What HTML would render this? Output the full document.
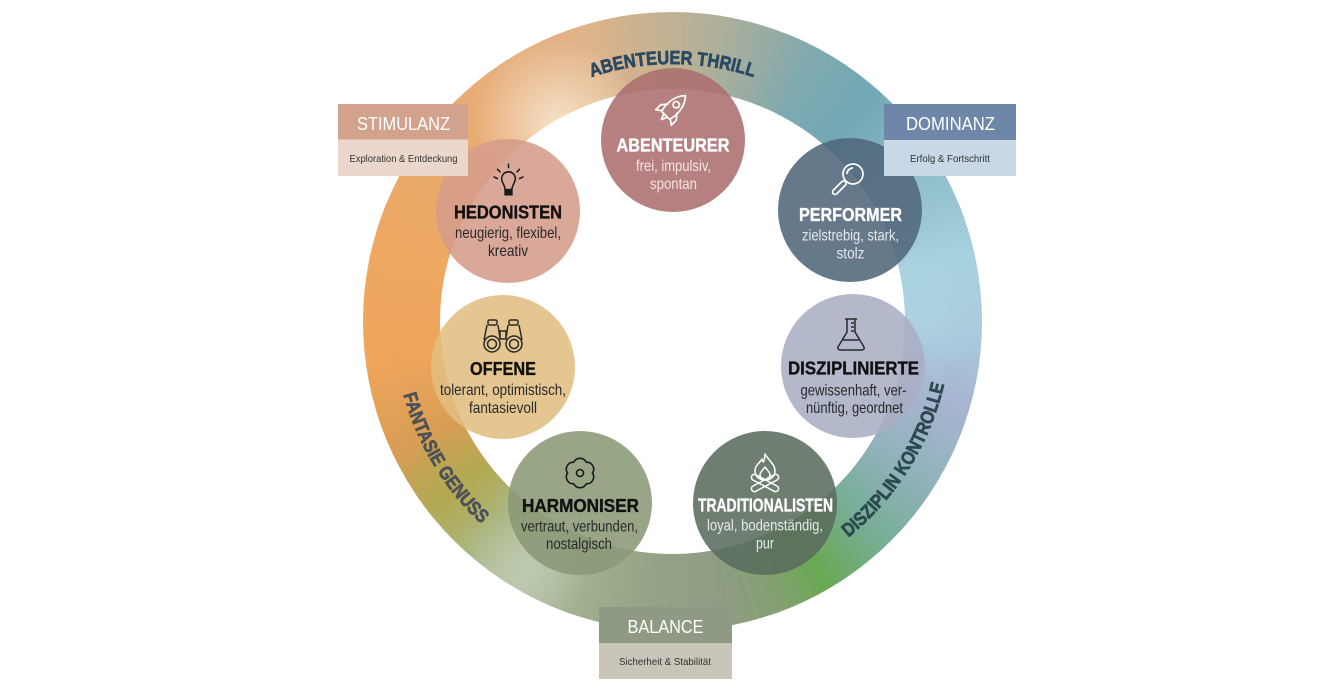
<!DOCTYPE html>
<html><head><meta charset="utf-8"><style>
html,body{margin:0;padding:0;background:#fff;}
#c{position:relative;width:1340px;height:697px;overflow:hidden;background:#fff;}
.ring{position:absolute;left:363px;top:11.5px;width:619px;height:619px;border-radius:50%;
background:
 radial-gradient(circle 85px at 195px 112px, rgba(246,228,204,.95), rgba(246,228,204,0)),
 radial-gradient(circle 65px at 160px 560px, rgba(192,204,178,.8), rgba(192,204,178,0)),
 radial-gradient(circle 55px at 90px 470px, rgba(180,168,80,.55), rgba(180,168,80,0)),
 radial-gradient(circle 70px at 560px 300px, rgba(175,216,228,.6), rgba(175,216,228,0)),
 conic-gradient(from 0deg at 50% 50%,
 #bfb293 0deg,#a7ae9c 12deg,#7fa9b0 28deg,#72a8b6 42deg,#8dbcc8 58deg,#a8d2de 78deg,#a9c9dc 92deg,
 #a7b5d1 106deg,#94b2bf 120deg,#78ae98 136deg,#6aa852 150deg,#86a074 160deg,#8f9d83 170deg,
 #94a385 185deg,#a2b291 200deg,#b4c0a5 210deg,#a9b884 220deg,#b3aa55 232deg,#d99d55 245deg,
 #eea55b 262deg,#eea862 285deg,#e9aa6e 305deg,#e8ae7b 325deg,#dfb38a 343deg,#bfb293 360deg);}
.inner{position:absolute;left:440px;top:88.5px;width:465px;height:465px;border-radius:50%;background:#fff;}
svg{position:absolute;left:0;top:0;}
.t{font-family:"Liberation Sans",sans-serif;font-weight:bold;font-size:18px;text-anchor:middle;stroke-width:0.35;}
.s{font-family:"Liberation Sans",sans-serif;font-size:16px;text-anchor:middle;}
.b{font-family:"Liberation Sans",sans-serif;font-size:18px;text-anchor:middle;fill:#fff;}
.bs{font-family:"Liberation Sans",sans-serif;font-size:10.5px;text-anchor:middle;fill:#333;}
.rl{font-family:"Liberation Sans",sans-serif;font-weight:bold;font-size:19px;stroke-width:0.7;}
</style></head><body><div id="c">
<div class="ring"></div>
<div class="inner"></div>
<svg width="1340" height="697" viewBox="0 0 1340 697" xmlns="http://www.w3.org/2000/svg">
<defs>
<path id="pTop" d="M525.1 110.5 A257 257 0 0 1 819.9 110.5"/>
<path id="pLeft" d="M395.0 350.2 A279 279 0 0 0 516.5 552.3"/>
<path id="pRight" d="M824.4 555 A279 279 0 0 0 949.4 355"/>
</defs>

<!-- circles -->
<g fill-opacity="0.88">
<circle cx="673" cy="140" r="72" fill="#ac6e6f"/>
<circle cx="508" cy="211" r="72" fill="#d59c8a"/>
<circle cx="850" cy="210" r="72" fill="#51667b"/>
<circle cx="503" cy="367" r="72" fill="#e1be81"/>
<circle cx="853" cy="366" r="72" fill="#a8aec4"/>
<circle cx="580" cy="503" r="72" fill="#8a9976"/>
<circle cx="765" cy="503" r="72" fill="#5a6c5d"/>
</g>

<!-- rocket -->
<g transform="translate(672,109) rotate(45)" fill="none" stroke="#fff" stroke-width="1.7" stroke-linejoin="round">
<path d="M0,-19 C8,-11 8,2 5.5,9 L-5.5,9 C-8,2 -8,-11 0,-19Z"/>
<circle cx="0" cy="-6" r="3.2"/>
<path d="M-6,-1 L-11,5 L-11,12 L-5.5,8"/>
<path d="M6,-1 L11,5 L11,12 L5.5,8"/>
<path d="M-2.5,9 L0,15 L2.5,9"/>
</g>
<!-- bulb -->
<g transform="translate(508.5,182) scale(0.85)" fill="none" stroke="#1a1a1a" stroke-width="1.8" stroke-linecap="round">
<path d="M-4,9 C-4,4 -8,1 -8,-4 A8,8 0 1 1 8,-4 C8,1 4,4 4,9 Z"/>
<rect x="-4" y="9" width="8" height="6" fill="#1a1a1a"/>
<line x1="0" y1="-17" x2="0" y2="-21"/>
<line x1="-10" y1="-12" x2="-13" y2="-15"/>
<line x1="10" y1="-12" x2="13" y2="-15"/>
<line x1="-13" y1="-4" x2="-17" y2="-6"/>
<line x1="13" y1="-4" x2="17" y2="-6"/>
</g>
<!-- magnifier -->
<g transform="translate(848,181)" fill="none" stroke="#fff" stroke-width="1.7">
<circle cx="5" cy="-7" r="10"/>
<path d="M-1,-7 A6,6 0 0 1 5,-13"/>
<g transform="rotate(45 -2 0)"><rect x="-4.5" y="1" width="5" height="17" rx="2.5"/></g>
</g>
<!-- binoculars -->
<g transform="translate(503,336)" fill="none" stroke="#2a2a2a" stroke-width="1.5">
<rect x="-15" y="-16" width="9" height="5" rx="1.5"/>
<rect x="6" y="-16" width="9" height="5" rx="1.5"/>
<path d="M-16,-11 L-19,4 M-5,-11 L-3,2"/>
<path d="M16,-11 L19,4 M5,-11 L3,2"/>
<rect x="-3" y="-5" width="6" height="8"/>
<circle cx="-11" cy="8" r="8"/><circle cx="-11" cy="8" r="4.5"/>
<circle cx="11" cy="8" r="8"/><circle cx="11" cy="8" r="4.5"/>
</g>
<!-- flask -->
<g transform="translate(851,335)" fill="none" stroke="#2a2a2a" stroke-width="1.5" stroke-linejoin="round">
<line x1="-6" y1="-16" x2="6" y2="-16"/>
<path d="M-4,-16 L-4,-3 L-13,12 Q-14,15 -10,15 L10,15 Q14,15 13,12 L4,-3 L4,-16"/>
<line x1="0" y1="-12" x2="3" y2="-12"/><line x1="0" y1="-8" x2="3" y2="-8"/><line x1="0" y1="-4" x2="3" y2="-4"/>
<path d="M-8,5 L8,5"/>
</g>
<!-- flower -->
<g transform="translate(580,473)" fill="none" stroke="#1a1a1a" stroke-width="1.6">
<path d="M12.5,0 A7,7 0 0 1 6.25,10.83 A7,7 0 0 1 -6.25,10.83 A7,7 0 0 1 -12.5,0 A7,7 0 0 1 -6.25,-10.83 A7,7 0 0 1 6.25,-10.83 A7,7 0 0 1 12.5,0Z"/>
<circle cx="0" cy="0" r="3.5"/>
</g>
<!-- campfire -->
<g transform="translate(765,471)" fill="none" stroke="#fff" stroke-width="1.5" stroke-linejoin="round">
<path d="M0,-17 C4,-10 10,-7 10,0 C10,6 5,9 0,9 C-5,9 -10,6 -10,0 C-10,-6 -5,-8 -3,-12 C-2,-8 -1,-7 0,-17Z"/>
<path d="M0,-4 C2,-1 5,1 5,4 C5,7 2,9 0,9 C-2,9 -5,7 -5,4 C-5,1 -2,-1 0,-4Z"/>
<g transform="rotate(28 0 12)"><rect x="-15" y="9" width="30" height="6" rx="3"/></g>
<g transform="rotate(-28 0 12)"><rect x="-15" y="9" width="30" height="6" rx="3"/></g>
</g>

<!-- node texts -->
<text class="t" x="673" y="151.5" fill="#fff" stroke="#fff" textLength="113" lengthAdjust="spacingAndGlyphs">ABENTEURER</text>
<text class="s" x="673.5" y="171" fill="#f3e4e4" textLength="75" lengthAdjust="spacingAndGlyphs">frei, impulsiv,</text>
<text class="s" x="673.5" y="189" fill="#f3e4e4" textLength="47" lengthAdjust="spacingAndGlyphs">spontan</text>

<text class="t" x="508" y="218.5" fill="#111" stroke="#111" textLength="108" lengthAdjust="spacingAndGlyphs">HEDONISTEN</text>
<text class="s" x="508" y="238" fill="#2a2a2a" textLength="106" lengthAdjust="spacingAndGlyphs">neugierig, flexibel,</text>
<text class="s" x="508" y="256" fill="#2a2a2a" textLength="40" lengthAdjust="spacingAndGlyphs">kreativ</text>

<text class="t" x="850.5" y="221" fill="#fff" stroke="#fff" textLength="103" lengthAdjust="spacingAndGlyphs">PERFORMER</text>
<text class="s" x="850.5" y="240.5" fill="#e4e8ee" textLength="97" lengthAdjust="spacingAndGlyphs">zielstrebig, stark,</text>
<text class="s" x="850.5" y="258.5" fill="#e4e8ee" textLength="28" lengthAdjust="spacingAndGlyphs">stolz</text>

<text class="t" x="503" y="375" fill="#111" stroke="#111" textLength="66" lengthAdjust="spacingAndGlyphs">OFFENE</text>
<text class="s" x="503" y="395" fill="#2a2a2a" textLength="126" lengthAdjust="spacingAndGlyphs">tolerant, optimistisch,</text>
<text class="s" x="503" y="413" fill="#2a2a2a" textLength="68" lengthAdjust="spacingAndGlyphs">fantasievoll</text>

<text class="t" x="853.5" y="374.5" fill="#111" stroke="#111" textLength="131" lengthAdjust="spacingAndGlyphs">DISZIPLINIERTE</text>
<text class="s" x="853.5" y="395.5" fill="#2a2a2a" textLength="106" lengthAdjust="spacingAndGlyphs">gewissenhaft, ver-</text>
<text class="s" x="854.5" y="413" fill="#2a2a2a" textLength="97" lengthAdjust="spacingAndGlyphs">nünftig, geordnet</text>

<text class="t" x="580.5" y="512" fill="#111" stroke="#111" textLength="117" lengthAdjust="spacingAndGlyphs">HARMONISER</text>
<text class="s" x="579.5" y="531.5" fill="#2a2a2a" textLength="117" lengthAdjust="spacingAndGlyphs">vertraut, verbunden,</text>
<text class="s" x="579" y="549" fill="#2a2a2a" textLength="66" lengthAdjust="spacingAndGlyphs">nostalgisch</text>

<text class="t" x="765.5" y="511.5" fill="#fff" stroke="#fff" textLength="135" lengthAdjust="spacingAndGlyphs">TRADITIONALISTEN</text>
<text class="s" x="765" y="530.5" fill="#e6ebe6" textLength="116" lengthAdjust="spacingAndGlyphs">loyal, bodenständig,</text>
<text class="s" x="765" y="548.5" fill="#e6ebe6" textLength="18" lengthAdjust="spacingAndGlyphs">pur</text>

<!-- ring labels -->
<text class="rl" fill="#2b4a62" stroke="#2b4a62" font-size="20"><textPath href="#pTop" startOffset="50%" text-anchor="middle" textLength="165" lengthAdjust="spacingAndGlyphs">ABENTEUER THRILL</textPath></text>
<text class="rl" fill="#4d5256" stroke="#4d5256" font-size="20"><textPath href="#pLeft" startOffset="50%" text-anchor="middle" textLength="153" lengthAdjust="spacingAndGlyphs">FANTASIE GENUSS</textPath></text>
<text class="rl" fill="#2c4950" stroke="#2c4950" font-size="20"><textPath href="#pRight" startOffset="50%" text-anchor="middle" textLength="184" lengthAdjust="spacingAndGlyphs">DISZIPLIN KONTROLLE</textPath></text>

<!-- boxes -->
<rect x="338" y="104" width="130" height="35.5" fill="#d3a28c"/>
<rect x="338" y="139.5" width="130" height="36.5" fill="#ecd7cc"/>
<text class="b" x="403.5" y="130" textLength="93" lengthAdjust="spacingAndGlyphs">STIMULANZ</text>
<text class="bs" x="403.5" y="162" textLength="108" lengthAdjust="spacingAndGlyphs">Exploration &amp; Entdeckung</text>

<rect x="884" y="104" width="132" height="36" fill="#6e86a8"/>
<rect x="884" y="140" width="132" height="36" fill="#c8d8e6"/>
<text class="b" x="950.5" y="130" textLength="89" lengthAdjust="spacingAndGlyphs">DOMINANZ</text>
<text class="bs" x="950" y="162" textLength="80" lengthAdjust="spacingAndGlyphs">Erfolg &amp; Fortschritt</text>

<rect x="599" y="607" width="133" height="36" fill="#8e9a84"/>
<rect x="599" y="643" width="133" height="36" fill="#c9c6b9"/>
<text class="b" x="665.5" y="633" textLength="76" lengthAdjust="spacingAndGlyphs">BALANCE</text>
<text class="bs" x="665" y="665" textLength="92" lengthAdjust="spacingAndGlyphs">Sicherheit &amp; Stabilität</text>
</svg>
</div></body></html>
